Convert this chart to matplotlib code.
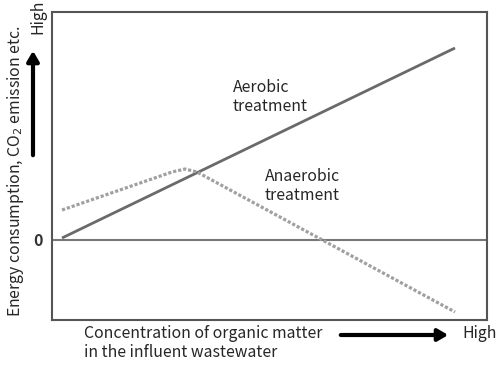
import matplotlib
matplotlib.use("Agg")
import matplotlib.pyplot as plt

plt.rcParams['font.family'] = ['Noto Sans CJK JP', 'DejaVu Sans']

# Data (schematic units)
aerobic_x = [1.0, 40.3]
aerobic_y = [0.2, 19.2]
anaerobic_x = [1.0, 12.0, 13.3, 14.5, 40.3]
anaerobic_y = [3.0, 6.8, 7.1, 6.8, -7.2]

W, H = 500, 368
fig = plt.figure(figsize=(W / 100, H / 100), dpi=100)

def fx(px):
    return px / W

def fy(py):
    return 1 - py / H

left, right, top, bottom = 52, 487, 12, 320
ax = fig.add_axes([fx(left), fy(bottom), fx(right) - fx(left), fy(top) - fy(bottom)])
ax.set_xlim(0, 43.5)
ax.set_ylim(-8.0, 22.8)
for s in ax.spines.values():
    s.set_color('#555555')
    s.set_linewidth(1.5)
ax.set_xticks([])
ax.set_yticks([])

ax.axhline(0, color='#777777', lw=1.5)
ax.plot(aerobic_x, aerobic_y, color='#6a6a6a', lw=2.0, solid_capstyle='butt')
ax.plot(anaerobic_x, anaerobic_y, color='#a0a0a0', lw=2.3, linestyle=(0, (1, 0.6)))

FS = 11.4
TC = '#262626'
ax.text(18.1, 14.3, "Aerobic\ntreatment", fontsize=FS, color=TC,
        ha='left', va='center', linespacing=1.15)
ax.text(21.3, 5.4, "Anaerobic\ntreatment", fontsize=FS, color=TC,
        ha='left', va='center', linespacing=1.15)

fig.text(fx(38), fy(241), "0", fontsize=11.5, fontweight='bold', color='#333333',
         ha='center', va='center')

arrow_props = dict(arrowstyle='-|>,head_width=0.35,head_length=0.6', lw=3, color='black')

# Y label and arrow
fig.text(fx(16), fy(171), "Energy consumption, CO$_2$ emission etc.", fontsize=FS,
         rotation=90, ha='center', va='center', color=TC)
ax.annotate("", xy=(fx(33), fy(48)), xytext=(fx(33), fy(158)),
            xycoords='figure fraction', textcoords='figure fraction',
            arrowprops=arrow_props, annotation_clip=False)
fig.text(fx(38), fy(17), "High", fontsize=FS, rotation=90, ha='center', va='center',
         color=TC)

# X label and arrow
fig.text(fx(84), fy(343), "Concentration of organic matter\nin the influent wastewater",
         fontsize=FS, ha='left', va='center', color=TC, linespacing=1.1)
ax.annotate("", xy=(fx(451), fy(335)), xytext=(fx(338), fy(335)),
            xycoords='figure fraction', textcoords='figure fraction',
            arrowprops=arrow_props, annotation_clip=False)
fig.text(fx(462), fy(334), "High", fontsize=FS, ha='left', va='center', color=TC)

fig.savefig("out.png", dpi=100)
